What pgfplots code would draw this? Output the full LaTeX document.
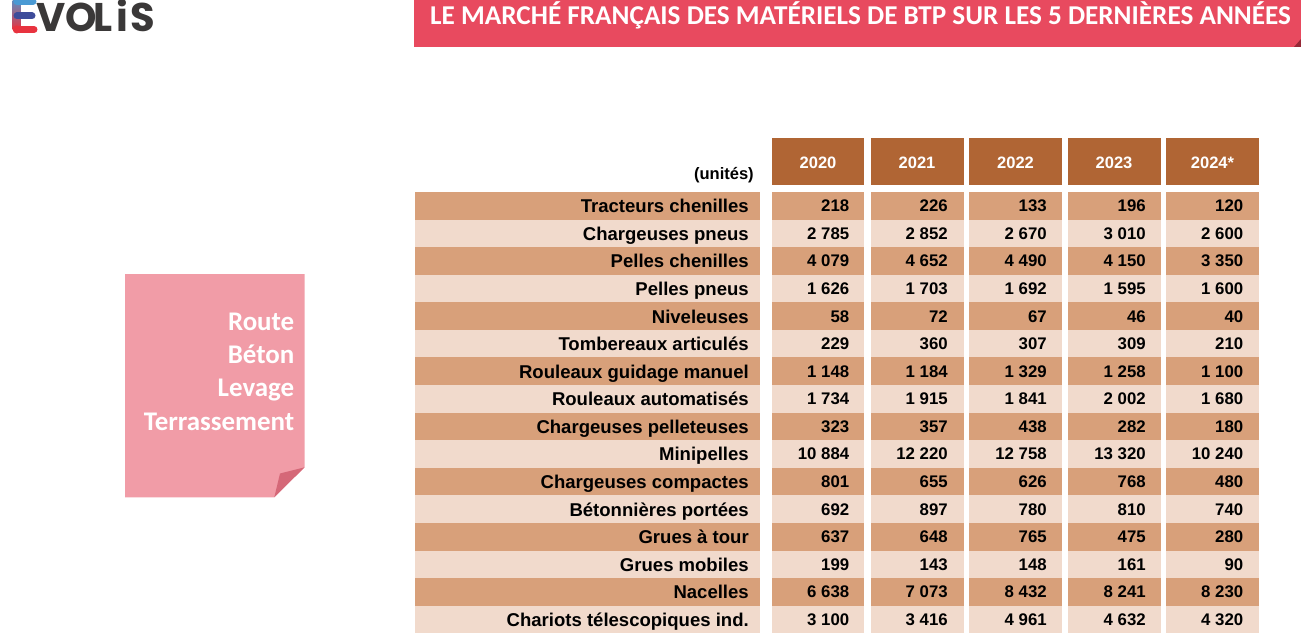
\documentclass[border=0pt]{standalone}
\usepackage{pgfplots}
\pgfplotsset{compat=1.18}
\usepackage{pgfplotstable}
\usepackage{fontspec}
\setmainfont{Liberation Sans}
\newfontfamily\carlito{Carlito}
\newfontfamily\poppins{Poppins}

\definecolor{banner}{RGB}{232,74,95}
\definecolor{bannerdark}{RGB}{150,40,55}
\definecolor{note}{RGB}{241,156,167}
\definecolor{notefold}{RGB}{213,104,120}
\definecolor{hdr}{RGB}{176,101,52}
\definecolor{rowdark}{RGB}{216,160,122}
\definecolor{rowlight}{RGB}{241,218,204}
\definecolor{logogray}{RGB}{58,56,56}
\definecolor{logoblue}{RGB}{74,154,212}
\definecolor{logonavy}{RGB}{62,76,154}
\definecolor{logored}{RGB}{232,51,63}

\newcommand\labfont{\bfseries\fontsize{13.9pt}{16pt}\selectfont}
\newcommand\valfont{\bfseries\fontsize{12.6pt}{15pt}\selectfont}
\newcommand\hdrfont{\bfseries\fontsize{12.4pt}{15pt}\selectfont}

\pgfplotstableread[col sep=semicolon]{
label;y2020;y2021;y2022;y2023;y2024
Tracteurs chenilles;218;226;133;196;120
Chargeuses pneus;2785;2852;2670;3010;2600
Pelles chenilles;4079;4652;4490;4150;3350
Pelles pneus;1626;1703;1692;1595;1600
Niveleuses;58;72;67;46;40
Tombereaux articulés;229;360;307;309;210
Rouleaux guidage manuel;1148;1184;1329;1258;1100
Rouleaux automatisés;1734;1915;1841;2002;1680
Chargeuses pelleteuses;323;357;438;282;180
Minipelles;10884;12220;12758;13320;10240
Chargeuses compactes;801;655;626;768;480
Bétonnières portées;692;897;780;810;740
Grues à tour;637;648;765;475;280
Grues mobiles;199;143;148;161;90
Nacelles;6638;7073;8432;8241;8230
Chariots télescopiques ind.;3100;3416;4961;4632;4320
}\data

\begin{document}
\begin{tikzpicture}
\begin{axis}[
  name=ax,
  scale only axis, width=975.75pt, height=476.25pt,
  xmin=0, xmax=1301, ymin=0, ymax=635, y dir=reverse,
  hide axis, clip=false,
  /pgf/number format/fixed,
  /pgf/number format/precision=0,
  /pgf/number format/1000 sep={\ },
  /pgf/number format/assume math mode=true,
]
% ---- title banner
\fill[banner] (axis cs:414,0) rectangle (axis cs:1301,47);
\fill[bannerdark] (axis cs:1294,47) -- (axis cs:1301,39) -- (axis cs:1301,47) -- cycle;
\node[text=white, font=\carlito\bfseries\fontsize{20.4pt}{23pt}\selectfont, anchor=base]
  at (axis cs:860.5,24.5) {LE MARCHÉ FRANÇAIS DES MATÉRIELS DE BTP SUR LES 5 DERNIÈRES ANNÉES};

% ---- logo
\shade[top color=logoblue, middle color=logonavy, bottom color=logored]
  (axis cs:12.7,-4) rectangle (axis cs:20.7,30);
\fill[logored] (axis cs:16.7,29.5) circle[radius=3pt];
\draw[line width=5.25pt, line cap=round, logoblue] (axis cs:17,1.5) -- (axis cs:33,1.5);
\draw[line width=5.25pt, line cap=round, logonavy] (axis cs:17,16) -- (axis cs:32,16);
\draw[line width=5.25pt, line cap=round, logored] (axis cs:17,29.5) -- (axis cs:34,29.5);
\begin{scope}[every node/.style={text=logogray, font=\poppins\bfseries\fontsize{30pt}{32pt}\selectfont, anchor=base, inner sep=0pt}]
\node at (axis cs:51,32) {V};
\node at (axis cs:81,32) {O};
\node at (axis cs:103.5,32) {L};
\node at (axis cs:122,32) {i};
\node at (axis cs:142.5,32) {S};
\end{scope}

% ---- note
\fill[note] (axis cs:125,274) -- (axis cs:304.5,274) -- (axis cs:304.5,467.3)
  -- (axis cs:274.3,497.3) -- (axis cs:125,497.3) -- cycle;
\fill[notefold] (axis cs:304.5,467.3) -- (axis cs:274.3,497.3) -- (axis cs:280,473.5) -- cycle;
\begin{scope}[every node/.style={text=white, font=\carlito\bfseries\fontsize{20.2pt}{23pt}\selectfont, anchor=base east, inner sep=0pt}]
\node at (axis cs:294.5,330.7) {Route};
\node at (axis cs:294.5,363.3) {Béton};
\node at (axis cs:294.5,396.7) {Levage};
\node at (axis cs:294.5,430) {Terrassement};
\end{scope}

% ---- header cells
\fill[hdr] (axis cs:772,138) rectangle (axis cs:864,185);
\fill[hdr] (axis cs:870.5,138) rectangle (axis cs:963.5,185);
\fill[hdr] (axis cs:969,138) rectangle (axis cs:1062,185);
\fill[hdr] (axis cs:1067.5,138) rectangle (axis cs:1160.5,185);
\fill[hdr] (axis cs:1166,138) rectangle (axis cs:1259,185);
\begin{scope}[every node/.style={text=white, font=\hdrfont, anchor=base, inner sep=0pt}]
\node at (axis cs:818,168) {2020};
\node at (axis cs:917,168) {2021};
\node at (axis cs:1015.5,168) {2022};
\node at (axis cs:1114,168) {2023};
\node at (axis cs:1212.5,168) {2024*};
\end{scope}
\node[anchor=base east, inner sep=0pt, font=\bfseries\fontsize{12.4pt}{15pt}\selectfont] at (axis cs:754,179) {(unités)};

% ---- row bands
\pgfplotsinvokeforeach{0,2,...,14}{
  \fill[rowdark] (axis cs:415,{192+27.58*#1}) rectangle (axis cs:1259,{192+27.58*(#1+1)});
}
\pgfplotsinvokeforeach{1,3,...,15}{
  \fill[rowlight] (axis cs:415,{192+27.58*#1}) rectangle (axis cs:1259,{192+27.58*(#1+1)});
}
\fill[white] (axis cs:759.5,190) rectangle (axis cs:772,636);
\fill[white] (axis cs:864,190) rectangle (axis cs:870.5,636);
\fill[white] (axis cs:963.5,190) rectangle (axis cs:969,636);
\fill[white] (axis cs:1062,190) rectangle (axis cs:1067.5,636);
\fill[white] (axis cs:1160.5,190) rectangle (axis cs:1166,636);

% ---- row labels
\addplot[only marks, mark=none, point meta=explicit symbolic, nodes near coords,
  every node near coord/.append style={anchor=base east, inner sep=0pt, font=\labfont, text=black}]
  table[x expr=749, y expr={192+27.58*\coordindex+20.7}, meta=label] {\data};
% ---- values
\addplot[only marks, mark=none, point meta=explicit, nodes near coords,
  every node near coord/.append style={anchor=base east, inner sep=0pt, font=\valfont, text=black}]
  table[x expr=849.5, y expr={192+27.58*\coordindex+19.7}, meta=y2020] {\data};
\addplot[only marks, mark=none, point meta=explicit, nodes near coords,
  every node near coord/.append style={anchor=base east, inner sep=0pt, font=\valfont, text=black}]
  table[x expr=948, y expr={192+27.58*\coordindex+19.7}, meta=y2021] {\data};
\addplot[only marks, mark=none, point meta=explicit, nodes near coords,
  every node near coord/.append style={anchor=base east, inner sep=0pt, font=\valfont, text=black}]
  table[x expr=1047, y expr={192+27.58*\coordindex+19.7}, meta=y2022] {\data};
\addplot[only marks, mark=none, point meta=explicit, nodes near coords,
  every node near coord/.append style={anchor=base east, inner sep=0pt, font=\valfont, text=black}]
  table[x expr=1146, y expr={192+27.58*\coordindex+19.7}, meta=y2023] {\data};
\addplot[only marks, mark=none, point meta=explicit, nodes near coords,
  every node near coord/.append style={anchor=base east, inner sep=0pt, font=\valfont, text=black}]
  table[x expr=1243.5, y expr={192+27.58*\coordindex+19.7}, meta=y2024] {\data};
\end{axis}
\pgfresetboundingbox
\useasboundingbox (ax.south west) rectangle (ax.north east);
\end{tikzpicture}
\end{document}
